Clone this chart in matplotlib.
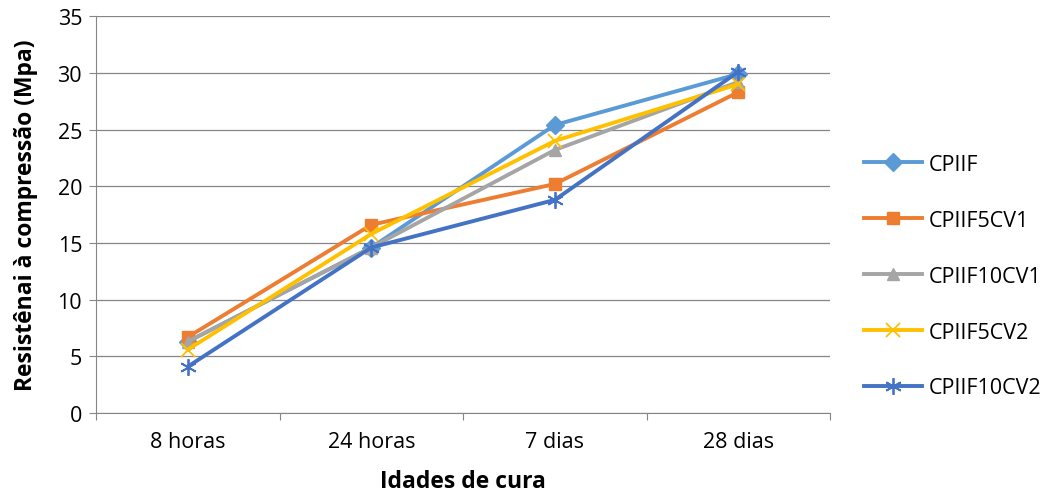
import matplotlib.pyplot as plt
import numpy as np

plt.rcParams['font.family'] = ['Open Sans', 'DejaVu Sans']

idades = ["8 horas", "24 horas", "7 dias", "28 dias"]
cpiif = [6.3, 14.6, 25.4, 29.9]
cpiif5cv1 = [6.7, 16.6, 20.2, 28.3]
cpiif10cv1 = [6.3, 14.6, 23.2, 29.2]
cpiif5cv2 = [5.6, 15.8, 24.0, 29.0]
cpiif10cv2 = [4.1, 14.6, 18.8, 30.1]

series = [
    ("CPIIF", cpiif, "#5B9BD5", "D"),
    ("CPIIF5CV1", cpiif5cv1, "#ED7D31", "s"),
    ("CPIIF10CV1", cpiif10cv1, "#A5A5A5", "^"),
    ("CPIIF5CV2", cpiif5cv2, "#FFC000", "x"),
    ("CPIIF10CV2", cpiif10cv2, "#4472C4", "*"),
]

fig = plt.figure(figsize=(10.58, 5.02), dpi=100)
ax = fig.add_axes([0.0907, 0.175, 0.694, 0.791])

x = np.arange(len(idades)) + 0.5
for name, vals, col, mk in series:
    if mk == "x":
        ax.plot(x, vals, color=col, lw=2.8, marker="x", ms=10, mew=1.3, label=name)
    elif mk == "*":
        ax.plot(x, vals, color=col, lw=2.8, marker=(6, 2, 0), ms=12, mew=1.3, label=name)
    else:
        ax.plot(x, vals, color=col, lw=2.8, marker=mk, ms=9, label=name)

ax.set_xlim(0, 4)
ax.set_ylim(0, 35)
ax.set_yticks(range(0, 36, 5))
ax.set_xticks(range(5))
ax.set_xticklabels([])
ax.set_xticks(x, minor=True)
ax.set_xticklabels(idades, minor=True, fontsize=15.5)
ax.tick_params(axis="x", which="minor", length=0, pad=13)
ax.tick_params(axis="x", which="major", length=5, color="#868686")
ax.tick_params(axis="y", length=5, color="#868686", labelsize=15.5, pad=5)
ax.grid(axis="y", color="#868686", lw=0.9)
ax.set_axisbelow(True)
for s in ["top", "right"]:
    ax.spines[s].set_visible(False)
for s in ["left", "bottom"]:
    ax.spines[s].set_color("#868686")

ax.set_ylabel("Resistênai à compressão (Mpa)", fontsize=16.5, fontweight="bold", labelpad=14)
ax.set_xlabel("Idades de cura", fontsize=16.5, fontweight="bold", labelpad=12)

ax.legend(loc="center left", bbox_to_anchor=(1.02, 0.345), frameon=False,
          fontsize=15.5, labelspacing=1.62, handlelength=2.7, handletextpad=0.3)

fig.savefig("out.png", dpi=100)
